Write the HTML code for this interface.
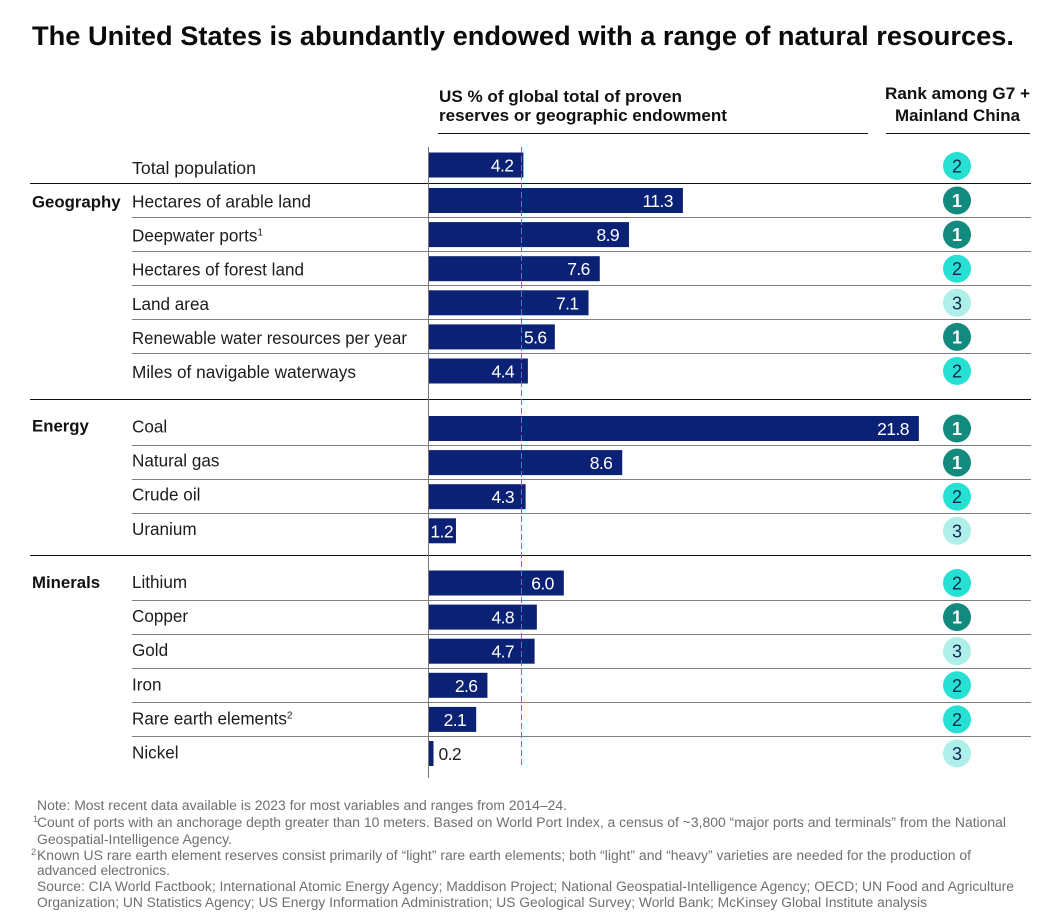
<!DOCTYPE html>
<html lang="en">
<head>
<meta charset="utf-8">
<title>US natural resources</title>
<style>
html,body{margin:0;padding:0;background:#fff;width:1050px;height:921px;overflow:hidden}
svg{display:block;font-family:"Liberation Sans",sans-serif}
.foot{font-size:13.5px;fill:#6f6f6f}
.head{font-size:16.5px;font-weight:bold;fill:#111}
</style>
</head>
<body>
<svg id="chart" width="1050" height="921" viewBox="0 0 1050 921" xmlns="http://www.w3.org/2000/svg">
<rect width="1050" height="921" fill="#ffffff"/>
<text x="32" y="45" font-size="27" font-weight="bold" fill="#0b0b0b" textLength="982" lengthAdjust="spacingAndGlyphs">The United States is abundantly endowed with a range of natural resources.</text>
<text class="head" x="439" y="102" textLength="243" lengthAdjust="spacingAndGlyphs">US % of global total of proven</text>
<text class="head" x="439" y="121" textLength="288" lengthAdjust="spacingAndGlyphs">reserves or geographic endowment</text>
<line x1="438" x2="868" y1="133.5" y2="133.5" stroke="#111" stroke-width="1"/>
<text class="head" x="885" y="99" textLength="145" lengthAdjust="spacingAndGlyphs">Rank among G7 +</text>
<text class="head" x="895" y="121" textLength="125" lengthAdjust="spacingAndGlyphs">Mainland China</text>
<line x1="886" x2="1030" y1="133.5" y2="133.5" stroke="#111" stroke-width="1"/>

<g id="rules"></g>
<g id="bars"></g>
<line x1="428.5" x2="428.5" y1="147" y2="778" stroke="#777" stroke-width="1"/>
<line id="refline" y1="147" y2="768" stroke="#00a3c7" stroke-width="1" stroke-dasharray="6 3"/>
<g id="values"></g>
<g id="labels"></g>
<g id="ranks"></g>

<g>
<text class="foot" x="37" y="810" textLength="530" lengthAdjust="spacingAndGlyphs">Note: Most recent data available is 2023 for most variables and ranges from 2014–24.</text>
<text class="foot" x="33" y="822" style="font-size:9px">1</text>
<text class="foot" x="37" y="827" textLength="969" lengthAdjust="spacingAndGlyphs">Count of ports with an anchorage depth greater than 10 meters. Based on World Port Index, a census of ~3,800 “major ports and terminals” from the National</text>
<text class="foot" x="37" y="844" textLength="195" lengthAdjust="spacingAndGlyphs">Geospatial-Intelligence Agency.</text>
<text class="foot" x="31" y="855" style="font-size:9px">2</text>
<text class="foot" x="37" y="860" textLength="934" lengthAdjust="spacingAndGlyphs">Known US rare earth element reserves consist primarily of “light” rare earth elements; both “light” and “heavy” varieties are needed for the production of</text>
<text class="foot" x="37" y="875" textLength="133" lengthAdjust="spacingAndGlyphs">advanced electronics.</text>
<text class="foot" x="37" y="891" textLength="977" lengthAdjust="spacingAndGlyphs">Source: CIA World Factbook; International Atomic Energy Agency; Maddison Project; National Geospatial-Intelligence Agency; OECD; UN Food and Agriculture</text>
<text class="foot" x="37" y="907" textLength="890" lengthAdjust="spacingAndGlyphs">Organization; UN Statistics Agency; US Energy Information Administration; US Geological Survey; World Bank; McKinsey Global Institute analysis</text>
</g>
</svg>
<script>
var categories = ["Total population","Hectares of arable land","Deepwater ports","Hectares of forest land","Land area","Renewable water resources per year","Miles of navigable waterways","Coal","Natural gas","Crude oil","Uranium","Lithium","Copper","Gold","Iron","Rare earth elements","Nickel"];
var groupNames = ["","Geography","Geography","Geography","Geography","Geography","Geography","Energy","Energy","Energy","Energy","Minerals","Minerals","Minerals","Minerals","Minerals","Minerals"];
var footnoteMarks = ["","","1","","","","","","","","","","","","","2",""];
var shareValues = [4.2,11.3,8.9,7.6,7.1,5.6,4.4,21.8,8.6,4.3,1.2,6.0,4.8,4.7,2.6,2.1,0.2];
var rankValues = [2,1,1,2,3,1,2,1,1,2,3,2,1,3,2,2,3];
var sectionOrder = ["","Geography","Energy","Minerals"];

var NS = "http://www.w3.org/2000/svg";
var X0 = 429, PX_PER_UNIT = 22.47, BAR_H = 25, PITCH = 34.1;
var REF_X = 521.5;
var VALUE_W_EST = 24;
var sectionLayout = {
  "":          {first:165, labelDy:3,  titleDy:0, gapAfter:18, badgeDy:1},
  "Geography": {first:200.5, labelDy:1, titleDy:2, gapAfter:28, badgeDy:0},
  "Energy":    {first:428.5, labelDy:-2, titleDy:-2, gapAfter:25, badgeDy:0},
  "Minerals":  {first:583, labelDy:-1, titleDy:0, gapAfter:0, badgeDy:0}
};
var labelFit = {"Total population":124,"Renewable water resources per year":275,"Hectares of arable land":179,"Miles of navigable waterways":224};
var RULE_LEFT = 132, RULE_RIGHT = 1031, SECTION_LEFT = 30, BADGE_X = 957, BADGE_R = 14;
var rankFill = {1:"#138a7e",2:"#25e0d3",3:"#aeefe9"};
var rankInk = {1:"#ffffff",2:"#13284f",3:"#13284f"};

function xScale(v){ return X0 + v * PX_PER_UNIT; }
function rowY(i){
  var g = groupNames[i], first = groupNames.indexOf(g);
  return sectionLayout[g].first + (i - first) * PITCH;
}
function make(tag, parent, attrs){
  var el = document.createElementNS(NS, tag);
  for (var k in attrs) el.setAttribute(k, attrs[k]);
  parent.appendChild(el);
  return el;
}
var barsG = document.getElementById("bars");
var valuesG = document.getElementById("values");
var labelsG = document.getElementById("labels");
var ranksG = document.getElementById("ranks");
var rulesG = document.getElementById("rules");

document.getElementById("refline").setAttribute("x1", REF_X);
document.getElementById("refline").setAttribute("x2", REF_X);

categories.forEach(function(cat, i){
  var y = rowY(i), g = groupNames[i], barEnd = xScale(shareValues[i]), w = barEnd - X0;
  var slug = cat.toLowerCase().replace(/[^a-z]+/g, "-");

  var bar = make("rect", barsG, {x:X0, y:y - BAR_H/2, width:w, height:BAR_H, fill:"#0a2175"});
  
  

  var attrs = {y:y + 6.5, "font-size":17.5, "letter-spacing":-0.6};
  if (w > 20) {
    var end = barEnd - (w < 35 ? 3 : 10);
    var start = end - VALUE_W_EST;
    attrs["text-anchor"] = "end";
    attrs.fill = "#ffffff";
    if (start < REF_X && end > REF_X - 8) {
      if (barEnd - REF_X >= 32) { attrs["text-anchor"] = "start"; attrs.x = REF_X + 2.5; }
      else { attrs.x = REF_X - 7.5; }
    } else {
      attrs.x = end;
    }
  } else {
    attrs.x = barEnd + 5;
    attrs["text-anchor"] = "start";
    attrs.fill = "#222222";
  }
  var val = make("text", valuesG, attrs);
  
  
  val.textContent = shareValues[i].toFixed(1);

  var lab = make("text", labelsG, {x:RULE_LEFT, y:y + sectionLayout[g].labelDy + 6, "font-size":17.1, fill:"#1c1c1c"});
  
  
  lab.textContent = cat;
  if (labelFit[cat]) {
    lab.setAttribute("textLength", labelFit[cat]);
    lab.setAttribute("lengthAdjust", "spacingAndGlyphs");
  }
  if (footnoteMarks[i]) {
    var sup = make("tspan", lab, {"font-size":10, dy:-6});
    sup.textContent = footnoteMarks[i];
  }

  var badge = make("circle", ranksG, {cx:BADGE_X, cy:y + sectionLayout[g].badgeDy, r:BADGE_R, fill:rankFill[rankValues[i]]});
  
  
  var rt = make("text", ranksG, {
    x:BADGE_X, y:y + sectionLayout[g].badgeDy + 6.5, "font-size":18, "text-anchor":"middle",
    "font-weight": rankValues[i] === 1 ? "bold" : "normal",
    fill: rankInk[rankValues[i]]
  });
  
  
  rt.textContent = rankValues[i];

  if (i < categories.length - 1) {
    var nextNew = groupNames[i + 1] !== g;
    var ry = Math.floor(y + (nextNew ? sectionLayout[g].gapAfter : 17)) + 0.5;
    var rule = make("line", rulesG, {
      x1: nextNew ? SECTION_LEFT : RULE_LEFT, x2: RULE_RIGHT, y1: ry, y2: ry,
      stroke: nextNew ? "#111111" : "#808080", "stroke-width":1
    });
    
    
  }
});

sectionOrder.forEach(function(name){
  if (!name) return;
  var first = groupNames.indexOf(name);
  var t = make("text", labelsG, {x:32, y:rowY(first) + sectionLayout[name].titleDy + 5, "font-size":16.8, "font-weight":"bold", fill:"#111111"});
  
  
  t.textContent = name;
});
</script>
</body>
</html>
